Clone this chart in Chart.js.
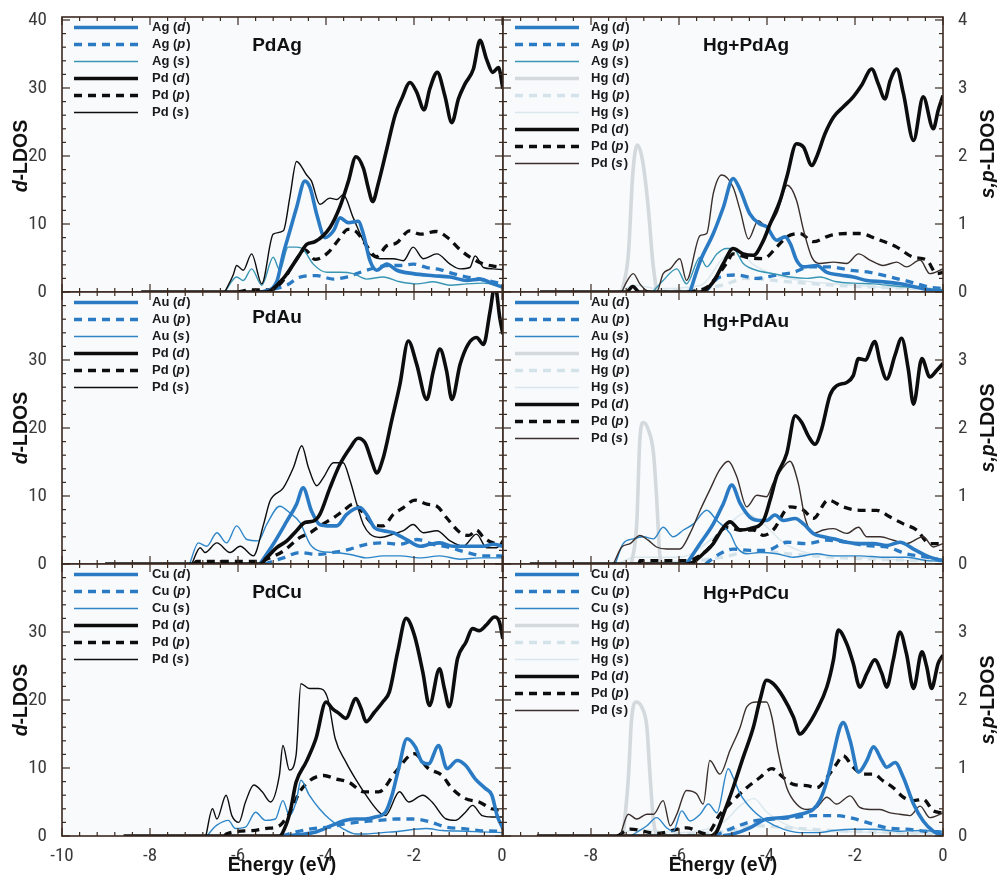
<!DOCTYPE html>
<html><head><meta charset="utf-8">
<script src="https://cdn.jsdelivr.net/npm/chart.js@4.4.1/dist/chart.umd.min.js"></script>
<style>
html,body{margin:0;padding:0;background:#fff;}
#wrap{position:relative;width:997px;height:877px;overflow:hidden;background:#fff;}
#wrap canvas{position:absolute;}
.lab{position:absolute;z-index:5;font-family:'Liberation Sans',Arial,sans-serif;font-weight:bold;font-size:19.5px;color:#111;white-space:nowrap;transform:translate(-50%,-50%);line-height:1;}
.rot{transform:translate(-50%,-50%) rotate(-90deg);}
</style></head><body><div id="wrap"></div>
<script>
// ---------- tick labels / titles ----------
const PANEL_TITLES = ['PdAg','Hg+PdAg','PdAu','Hg+PdAu','PdCu','Hg+PdCu'];
const X_TICKS_L = [-10,-8,-6,-4,-2,0];
const X_TICKS_R = [-8,-6,-4,-2,0];
const D_TICKS_TOP = [0,10,20,30,40];
const D_TICKS = [0,10,20,30];
const SP_TICKS_TOP = [0,1,2,3,4];
const SP_TICKS = [0,1,2,3];

// ---------- data: [energy (eV), LDOS]; d in d-LDOS units, s,p in s,p-LDOS units ----------
// PdAg
const pdag_AgD = [[-5.4,0],[-5.12,1.5],[-4.97,5.6],[-4.82,9],[-4.67,12.4],[-4.48,16.3],[-4.36,15.3],[-4.21,11.4],[-4.02,8],[-3.83,9],[-3.68,10.9],[-3.49,10.2],[-3.27,10.4],[-3.15,8.5],[-3.0,4.6],[-2.85,3.2],[-2.62,4.1],[-2.39,3.2],[-2.02,2.7],[-1.56,2.4],[-1.18,2.2],[-0.8,1.7],[-0.5,1.9],[-0.2,1.2],[0.02,0.7]];
const pdag_AgP = [[-5.5,0],[-4.89,0.1],[-4.59,0.22],[-4.21,0.24],[-3.83,0.19],[-3.53,0.22],[-3.3,0.27],[-3.08,0.32],[-2.85,0.36],[-2.62,0.39],[-2.32,0.39],[-2.02,0.41],[-1.71,0.36],[-1.41,0.33],[-1.11,0.27],[-0.8,0.22],[-0.5,0.19],[-0.2,0.15],[0.02,0.12]];
const pdag_AgS = [[-6.3,0],[-6.03,0.22],[-5.88,0.17],[-5.69,0.34],[-5.46,0.1],[-5.2,0.51],[-5.05,0.32],[-4.86,0.66],[-4.67,0.66],[-4.52,0.63],[-4.29,0.41],[-3.98,0.29],[-3.68,0.29],[-3.38,0.27],[-3.08,0.19],[-2.7,0.22],[-2.32,0.15],[-1.94,0.12],[-1.56,0.15],[-1.18,0.1],[-0.8,0.12],[-0.42,0.13],[0.02,0.07]];
const pdag_PdD = [[-8.2,0],[-5.35,0],[-4.97,2],[-4.74,4.1],[-4.59,5.6],[-4.44,7],[-4.25,7.4],[-3.91,9.5],[-3.68,12.6],[-3.49,16.3],[-3.32,19.9],[-3.15,18.2],[-3.04,15.3],[-2.94,13.3],[-2.81,16],[-2.62,21],[-2.43,26],[-2.28,28.4],[-2.09,30.8],[-1.94,29.4],[-1.77,26.8],[-1.64,29.9],[-1.47,32.3],[-1.30,28.9],[-1.14,24.9],[-0.99,28.4],[-0.84,30.6],[-0.65,32.8],[-0.5,37],[-0.35,34.2],[-0.21,32.3],[-0.08,33],[0.02,29.9]];
const pdag_PdP = [[-6.0,0],[-5.7,0.03],[-5.3,0.03],[-5.0,0.15],[-4.7,0.45],[-4.48,0.62],[-4.25,0.48],[-3.95,0.58],[-3.7,0.78],[-3.5,0.92],[-3.3,0.88],[-3.1,0.7],[-2.85,0.52],[-2.62,0.68],[-2.4,0.72],[-2.1,0.9],[-1.85,0.85],[-1.5,0.89],[-1.2,0.78],[-0.95,0.62],[-0.7,0.5],[-0.45,0.42],[-0.2,0.38],[0.02,0.36]];
const pdag_PdS = [[-6.3,0],[-6.11,0.25],[-6.03,0.39],[-5.88,0.32],[-5.69,0.56],[-5.46,0.12],[-5.2,0.85],[-4.97,0.9],[-4.82,1.4],[-4.67,1.92],[-4.44,1.72],[-4.33,1.63],[-4.14,1.29],[-3.91,1.38],[-3.75,1.36],[-3.61,1.43],[-3.38,1.09],[-3.15,0.75],[-3.0,0.56],[-2.77,0.49],[-2.47,0.49],[-2.24,0.46],[-2.02,0.66],[-1.79,0.49],[-1.48,0.56],[-1.18,0.41],[-0.95,0.34],[-0.73,0.36],[-0.61,0.53],[-0.42,0.36],[-0.2,0.34],[0.02,0.33]];
// Hg+PdAg
const hgpdag_AgD = [[-5.75,0],[-5.52,4.5],[-5.22,8.6],[-4.99,12.5],[-4.77,16.7],[-4.61,15],[-4.39,11.5],[-4.16,10],[-4.01,9.6],[-3.78,7.6],[-3.59,8.1],[-3.47,7.1],[-3.33,4.7],[-3.17,3.7],[-2.87,3.9],[-2.64,2.9],[-2.34,2.5],[-2.04,2.2],[-1.73,1.7],[-1.36,1.5],[-0.98,1.2],[-0.6,0.7],[-0.22,0.2],[0,0.1]];
const hgpdag_AgP = [[-5.4,0],[-5.07,0.22],[-4.69,0.25],[-4.24,0.2],[-3.78,0.25],[-3.4,0.29],[-3.02,0.37],[-2.57,0.37],[-2.11,0.32],[-1.66,0.29],[-1.2,0.22],[-0.75,0.15],[-0.3,0.07],[0,0.05]];
const hgpdag_AgS = [[-6.6,0],[-6.36,0.17],[-6.05,0.34],[-5.83,0.12],[-5.52,0.51],[-5.37,0.37],[-5.14,0.56],[-4.92,0.64],[-4.77,0.64],[-4.54,0.42],[-4.24,0.32],[-3.86,0.27],[-3.47,0.22],[-3.10,0.2],[-2.80,0.22],[-2.42,0.15],[-2.04,0.13],[-1.58,0.12],[-0.98,0.08],[-0.52,0.06],[0,0.03]];
const hgpdag_HgD = [[-7.3,0],[-7.15,5.6],[-7.05,17.4],[-6.95,21.6],[-6.83,19.4],[-6.70,12.5],[-6.60,4.7],[-6.51,0]];
const hgpdag_HgP = [[-7.4,0],[-6.0,0.02],[-5.0,0.1],[-4.5,0.2],[-3.5,0.15],[-2.5,0.1],[-1.0,0.06],[0,0.04]];
const hgpdag_HgS = [[-7.4,0],[-7.0,0.1],[-6.5,0.05],[-5.5,0.1],[-5.0,0.5],[-4.7,0.62],[-4.3,0.4],[-3.8,0.25],[-3.0,0.15],[-2.0,0.1],[-1.0,0.06],[0,0.04]];
const hgpdag_PdD = [[-9.16,0],[-7.2,0],[-7.05,0.8],[-6.9,0],[-5.52,0],[-5.22,1.5],[-4.99,4.2],[-4.77,6.4],[-4.54,5.6],[-4.31,5.4],[-4.08,7.6],[-3.93,10],[-3.70,13.5],[-3.55,16.9],[-3.33,21.8],[-3.17,21.3],[-2.98,18.6],[-2.87,19.9],[-2.68,23.3],[-2.49,25.7],[-2.27,27.2],[-2.04,28.7],[-1.85,30.4],[-1.62,32.8],[-1.47,30.6],[-1.32,28.4],[-1.20,31.1],[-1.05,32.8],[-0.90,29.2],[-0.67,22.3],[-0.45,28.7],[-0.22,24],[-0.11,26.7],[0,28.9]];
const hgpdag_PdP = [[-5.8,0],[-5.37,0.07],[-4.92,0.42],[-4.77,0.56],[-4.46,0.51],[-4.08,0.49],[-3.78,0.66],[-3.55,0.81],[-3.25,0.86],[-2.95,0.74],[-2.57,0.83],[-2.19,0.86],[-1.89,0.86],[-1.51,0.78],[-1.05,0.66],[-0.67,0.51],[-0.37,0.47],[-0.14,0.27],[0,0.29]];
const hgpdag_PdS = [[-7.3,0],[-7.19,0.15],[-7.04,0.27],[-6.89,0.12],[-6.73,0.02],[-6.51,0],[-6.36,0.27],[-6.20,0.34],[-5.98,0.49],[-5.83,0.17],[-5.52,0.83],[-5.37,0.86],[-5.22,1.45],[-5.03,1.72],[-4.77,1.54],[-4.61,1.2],[-4.42,0.78],[-4.20,1.05],[-4.01,0.96],[-3.78,1.15],[-3.54,1.57],[-3.33,1.35],[-3.17,0.91],[-2.98,0.51],[-2.80,0.42],[-2.49,0.44],[-2.19,0.42],[-1.92,0.56],[-1.66,0.47],[-1.36,0.39],[-1.05,0.44],[-0.83,0.37],[-0.52,0.47],[-0.30,0.27],[0,0.34]];
// PdAu
const pdau_AuD = [[-5.5,0],[-5.2,2.9],[-4.89,6.3],[-4.67,8.8],[-4.52,11.2],[-4.33,7.8],[-4.14,5.8],[-3.91,5.6],[-3.76,5.6],[-3.53,7.3],[-3.23,8.3],[-3.08,7.3],[-2.89,5.3],[-2.70,4.9],[-2.47,4.6],[-2.17,3.6],[-1.86,2.6],[-1.64,2.9],[-1.41,3.1],[-1.11,2.6],[-0.8,2.6],[-0.42,2.6],[-0.2,2.9],[0.02,2.6]];
const pdau_AuP = [[-5.4,0],[-4.97,0.09],[-4.59,0.17],[-4.21,0.14],[-3.83,0.17],[-3.45,0.22],[-3.08,0.29],[-2.70,0.31],[-2.32,0.29],[-1.94,0.36],[-1.56,0.29],[-1.18,0.24],[-0.8,0.17],[-0.42,0.12],[0.02,0.12]];
const pdau_AuS = [[-7.1,0],[-6.90,0.31],[-6.71,0.26],[-6.48,0.46],[-6.26,0.31],[-6.03,0.56],[-5.80,0.36],[-5.54,0.34],[-5.35,0.58],[-5.05,0.85],[-4.82,0.75],[-4.59,0.61],[-4.36,0.29],[-4.14,0.19],[-3.83,0.17],[-3.45,0.14],[-3.08,0.09],[-2.70,0.12],[-2.32,0.12],[-1.86,0.09],[-1.41,0.12],[-0.95,0.07],[-0.5,0.09],[0.02,0.09]];
const pdau_PdD = [[-9.02,0],[-5.5,0],[-5.35,0.9],[-5.12,2.4],[-4.89,3.4],[-4.67,4.9],[-4.48,6.1],[-4.29,6.3],[-4.14,7.3],[-3.91,11.2],[-3.68,14.7],[-3.45,17.1],[-3.27,18.5],[-3.11,17.8],[-2.96,15.1],[-2.85,13.4],[-2.70,15.6],[-2.51,21],[-2.32,26.4],[-2.13,32.8],[-1.94,29.4],[-1.71,24.2],[-1.56,28.4],[-1.41,31.6],[-1.26,28.4],[-1.14,24.2],[-0.95,29.4],[-0.77,32.3],[-0.58,33.3],[-0.42,32.3],[-0.27,37.2],[-0.16,41],[-0.05,36.2],[0.02,33.8]];
const pdau_PdP = [[-7.0,0],[-6.94,0.04],[-5.5,0.04],[-5.35,0.07],[-4.97,0.19],[-4.59,0.39],[-4.36,0.46],[-4.14,0.56],[-3.83,0.68],[-3.61,0.78],[-3.38,0.88],[-3.15,0.75],[-2.92,0.58],[-2.70,0.56],[-2.47,0.73],[-2.24,0.83],[-1.98,0.94],[-1.71,0.88],[-1.48,0.85],[-1.26,0.68],[-0.95,0.46],[-0.75,0.42],[-0.58,0.5],[-0.42,0.39],[-0.2,0.31],[0.02,0.29]];
const pdau_PdS = [[-7.05,0],[-6.86,0.24],[-6.75,0.17],[-6.48,0.31],[-6.18,0.17],[-5.95,0.26],[-5.65,0.12],[-5.42,0.58],[-5.27,0.93],[-4.97,1.12],[-4.74,1.42],[-4.55,1.74],[-4.40,1.42],[-4.21,1.15],[-4.06,1.27],[-3.83,1.49],[-3.61,1.49],[-3.45,1.22],[-3.30,0.88],[-3.15,0.58],[-3.0,0.44],[-2.77,0.39],[-2.47,0.44],[-2.24,0.49],[-2.02,0.58],[-1.79,0.46],[-1.48,0.49],[-1.18,0.34],[-0.88,0.26],[-0.58,0.44],[-0.35,0.24],[-0.12,0.24],[0.02,0.36]];
// Hg+PdAu
const hgpdau_AuD = [[-5.83,0],[-5.52,3],[-5.22,5.9],[-4.99,8.9],[-4.80,11.6],[-4.61,8.9],[-4.39,6.9],[-4.16,6.4],[-4.01,6.4],[-3.82,7.2],[-3.63,6.4],[-3.36,6.7],[-3.17,5.9],[-2.95,4.5],[-2.72,4],[-2.49,3.7],[-2.19,3.2],[-1.89,3],[-1.58,3],[-1.28,2.7],[-0.98,3.2],[-0.67,2.2],[-0.37,1.2],[-0.14,0.7],[0,0.5]];
const hgpdau_AuP = [[-5.4,0],[-5.07,0.15],[-4.77,0.22],[-4.39,0.2],[-4.01,0.2],[-3.55,0.32],[-3.1,0.3],[-2.64,0.35],[-2.19,0.32],[-1.73,0.27],[-1.28,0.25],[-0.83,0.15],[-0.37,0.1],[0,0.05]];
const hgpdau_AuS = [[-7.45,0],[-7.27,0.3],[-7.04,0.37],[-6.81,0.4],[-6.58,0.37],[-6.36,0.54],[-6.13,0.4],[-5.90,0.5],[-5.67,0.59],[-5.37,0.79],[-5.14,0.64],[-4.84,0.45],[-4.69,0.25],[-4.46,0.15],[-4.16,0.17],[-3.78,0.15],[-3.40,0.1],[-2.87,0.15],[-2.49,0.12],[-1.89,0.12],[-1.36,0.1],[-0.83,0.1],[-0.37,0.05],[0,0.04]];
const hgpdau_HgD = [[-7.08,0],[-6.96,6],[-6.89,18.3],[-6.81,20.8],[-6.70,19.8],[-6.58,16.3],[-6.51,9.9],[-6.43,1],[-6.36,0]];
const hgpdau_HgP = [[-7.4,0],[-6.0,0.03],[-5.0,0.1],[-4.3,0.2],[-3.5,0.15],[-2.5,0.1],[-1.0,0.06],[0,0.04]];
const hgpdau_HgS = [[-7.4,0],[-7.0,0.1],[-6.0,0.1],[-5.0,0.5],[-4.5,0.75],[-4.1,0.6],[-3.6,0.3],[-3.0,0.15],[-2.0,0.1],[-1.0,0.06],[0,0.04]];
const hgpdau_PdD = [[-9.39,0],[-5.83,0],[-5.67,0.3],[-5.45,1.5],[-5.22,3],[-4.99,5.4],[-4.84,6.2],[-4.61,5],[-4.39,5.2],[-4.08,6.4],[-3.93,9.4],[-3.78,12.9],[-3.55,16.3],[-3.36,21.8],[-3.21,20.8],[-3.06,18.8],[-2.91,17.6],[-2.76,19.8],[-2.57,24.8],[-2.42,26.2],[-2.19,26.7],[-2.04,27.7],[-1.92,30.2],[-1.77,30],[-1.55,32.7],[-1.43,29.7],[-1.28,27.2],[-1.09,30.7],[-0.94,33.2],[-0.79,28.7],[-0.67,23.5],[-0.48,30.2],[-0.30,27.5],[-0.14,28.5],[0,29.5]];
const hgpdau_PdP = [[-6.9,0],[-6.89,0.05],[-5.83,0.05],[-5.37,0.2],[-4.92,0.54],[-4.61,0.5],[-4.31,0.5],[-4.08,0.42],[-3.86,0.5],[-3.48,0.84],[-3.17,0.79],[-2.95,0.67],[-2.61,0.94],[-2.27,0.84],[-1.89,0.79],[-1.51,0.79],[-1.2,0.69],[-0.9,0.59],[-0.6,0.5],[-0.3,0.3],[0,0.3]];
const hgpdau_PdS = [[-7.49,0],[-7.30,0.25],[-7.11,0.3],[-6.89,0.42],[-6.70,0.35],[-6.51,0.25],[-6.28,0.22],[-5.98,0.22],[-5.75,0.45],[-5.52,0.79],[-5.30,1.09],[-5.07,1.39],[-4.88,1.51],[-4.69,1.29],[-4.46,0.84],[-4.23,1.01],[-4.01,0.99],[-3.86,1.19],[-3.67,1.39],[-3.48,1.51],[-3.29,1.19],[-3.14,0.69],[-2.95,0.45],[-2.72,0.5],[-2.49,0.52],[-2.19,0.45],[-1.92,0.54],[-1.73,0.4],[-1.43,0.4],[-1.13,0.35],[-0.83,0.3],[-0.45,0.4],[-0.22,0.25],[0,0.3]];
// PdCu
const pdcu_CuD = [[-5.0,0],[-4.76,0.1],[-4.23,0.6],[-3.85,1.6],[-3.55,2.3],[-3.33,2.5],[-3.11,2.5],[-2.88,2.8],[-2.65,3.5],[-2.50,6],[-2.35,9.9],[-2.16,14.3],[-1.97,13.1],[-1.82,10.9],[-1.67,10.6],[-1.44,13.3],[-1.25,9.9],[-1.02,11.1],[-0.83,10.4],[-0.61,8.4],[-0.38,7],[-0.23,6],[-0.11,3],[0.02,1.1]];
const pdcu_CuP = [[-5.0,0],[-4.68,0.06],[-4.3,0.11],[-3.92,0.13],[-3.55,0.18],[-3.17,0.21],[-2.79,0.23],[-2.41,0.25],[-2.03,0.25],[-1.65,0.21],[-1.27,0.13],[-0.89,0.11],[-0.52,0.08],[0.02,0.07]];
const pdcu_CuS = [[-6.7,0],[-6.58,0.1],[-6.48,0.16],[-6.22,0.23],[-6.06,0.11],[-5.83,0.13],[-5.60,0.35],[-5.38,0.23],[-5.15,0.25],[-4.98,0.52],[-4.83,0.3],[-4.68,0.5],[-4.57,0.82],[-4.38,0.6],[-4.15,0.4],[-3.92,0.25],[-3.62,0.11],[-3.33,0.03],[-3.09,0.03],[-2.71,0.05],[-2.33,0.07],[-1.73,0.11],[-1.35,0.08],[-0.82,0.07],[-0.45,0.06],[0.02,0.05]];
const pdcu_PdD = [[-8.6,0],[-5.06,0],[-4.91,1.6],[-4.80,4],[-4.68,7.9],[-4.45,10.9],[-4.23,14.3],[-4.0,19.7],[-3.85,18.7],[-3.70,18],[-3.55,17.3],[-3.32,20.2],[-3.20,18.7],[-3.09,16.8],[-2.90,18.2],[-2.71,19.7],[-2.56,21.2],[-2.37,27.1],[-2.18,32],[-1.99,29.5],[-1.80,24.1],[-1.65,19.2],[-1.42,24.6],[-1.31,21.7],[-1.20,19],[-1.01,26.1],[-0.82,28.5],[-0.67,30.5],[-0.52,30.2],[-0.36,31],[-0.17,32.2],[-0.06,31.5],[0.02,29]];
const pdcu_PdP = [[-6.3,0],[-6.27,0.03],[-5.68,0.08],[-5.38,0.11],[-5.06,0.15],[-4.92,0.25],[-4.77,0.4],[-4.6,0.65],[-4.05,0.89],[-3.78,0.84],[-3.48,0.79],[-3.14,0.65],[-2.80,0.65],[-2.42,0.94],[-2.0,1.21],[-1.67,0.99],[-1.36,0.89],[-1.14,0.7],[-0.83,0.55],[-0.52,0.5],[-0.23,0.4],[0.02,0.38]];
const pdcu_PdS = [[-6.73,0],[-6.58,0.4],[-6.48,0.25],[-6.27,0.6],[-6.14,0.3],[-5.98,0.2],[-5.83,0.5],[-5.64,0.75],[-5.45,0.65],[-5.26,0.5],[-5.06,0.89],[-4.98,1.33],[-4.83,0.97],[-4.68,1.19],[-4.57,2.24],[-4.38,2.17],[-4.17,2.17],[-3.96,2.02],[-3.79,1.43],[-3.55,1.09],[-3.33,0.84],[-3.09,0.6],[-2.79,0.35],[-2.65,0.3],[-2.33,0.65],[-2.12,0.5],[-1.80,0.6],[-1.59,0.5],[-1.27,0.25],[-1.06,0.23],[-0.83,0.35],[-0.67,0.45],[-0.45,0.3],[-0.23,0.28],[0.02,0.28]];
// Hg+PdCu
const hgpdcu_CuD = [[-5.0,0],[-4.77,0.3],[-4.39,1.2],[-4.01,2.5],[-3.63,2.7],[-3.25,3.2],[-2.95,3.9],[-2.80,5.2],[-2.64,8.1],[-2.49,12.1],[-2.34,16],[-2.27,16.7],[-2.11,14],[-1.92,9.4],[-1.73,11.1],[-1.58,13.1],[-1.39,11.1],[-1.28,10.1],[-1.09,10.8],[-0.90,8.6],[-0.67,4.7],[-0.45,2.2],[-0.22,0.7],[0,0.1]];
const hgpdcu_CuP = [[-5.2,0],[-4.77,0.12],[-4.31,0.22],[-3.86,0.25],[-3.40,0.27],[-2.95,0.3],[-2.49,0.3],[-2.11,0.27],[-1.73,0.2],[-1.28,0.12],[-0.83,0.1],[-0.37,0.07],[0,0.06]];
const hgpdcu_CuS = [[-7.1,0],[-6.73,0.15],[-6.51,0.27],[-6.28,0.12],[-6.13,0.07],[-5.94,0.37],[-5.75,0.22],[-5.52,0.32],[-5.33,0.47],[-5.14,0.34],[-4.88,0.99],[-4.77,0.86],[-4.61,0.62],[-4.31,0.37],[-4.01,0.22],[-3.63,0.1],[-3.25,0.05],[-2.80,0.05],[-2.49,0.08],[-2.04,0.1],[-1.58,0.1],[-0.98,0.07],[-0.52,0.08],[0,0.06]];
const hgpdcu_HgD = [[-7.27,0],[-7.15,8.6],[-7.08,17],[-6.98,19.7],[-6.85,19],[-6.73,16],[-6.66,9.1],[-6.58,2.2],[-6.51,0]];
const hgpdcu_HgP = [[-7.4,0],[-6.0,0.03],[-5.0,0.06],[-4.2,0.15],[-3.5,0.12],[-2.5,0.08],[-1.0,0.05],[0,0.03]];
const hgpdcu_HgS = [[-7.4,0],[-7.0,0.1],[-6.0,0.05],[-5.0,0.2],[-4.6,0.45],[-4.3,0.55],[-4.0,0.35],[-3.5,0.15],[-3.0,0.08],[-2.0,0.06],[0,0.03]];
const hgpdcu_PdD = [[-9.23,0],[-5.30,0],[-5.14,0.7],[-4.99,3.2],[-4.77,7.1],[-4.54,11.6],[-4.31,16],[-4.16,20],[-4.01,22.9],[-3.86,22.4],[-3.63,20.4],[-3.40,17.5],[-3.25,15],[-3.10,16],[-2.87,18.5],[-2.64,21.9],[-2.49,25.9],[-2.38,30.3],[-2.19,28.3],[-2.04,25.4],[-1.89,21.9],[-1.73,23.9],[-1.55,25.9],[-1.39,23.9],[-1.28,21.9],[-1.13,25.9],[-0.98,30],[-0.83,26.8],[-0.67,21.7],[-0.48,27.1],[-0.37,24.9],[-0.26,21.7],[-0.11,25.4],[0,26.6]];
const hgpdcu_PdP = [[-7.4,0],[-7.11,0.1],[-6.5,0.04],[-5.83,0.12],[-5.37,0.03],[-5.07,0.32],[-4.77,0.52],[-4.46,0.71],[-4.16,0.86],[-3.89,0.99],[-3.63,0.86],[-3.40,0.76],[-3.10,0.74],[-2.87,0.71],[-2.64,0.86],[-2.42,1.06],[-2.27,1.18],[-2.04,1.01],[-1.81,0.91],[-1.58,0.91],[-1.36,0.81],[-1.13,0.71],[-0.90,0.57],[-0.67,0.52],[-0.45,0.54],[-0.22,0.37],[0,0.34]];
const hgpdcu_PdS = [[-7.34,0],[-7.15,0.32],[-6.96,0.25],[-6.73,0.32],[-6.58,0.32],[-6.36,0.52],[-6.20,0.15],[-6.05,0.32],[-5.83,0.67],[-5.60,0.62],[-5.45,0.47],[-5.30,1.11],[-5.07,0.91],[-4.84,1.26],[-4.61,1.6],[-4.46,1.9],[-4.23,1.97],[-4.01,1.97],[-3.89,1.75],[-3.74,1.21],[-3.55,0.71],[-3.33,0.47],[-3.10,0.39],[-2.87,0.42],[-2.64,0.57],[-2.42,0.47],[-2.11,0.59],[-1.89,0.42],[-1.66,0.39],[-1.43,0.39],[-1.20,0.34],[-0.98,0.32],[-0.75,0.3],[-0.52,0.44],[-0.30,0.27],[0,0.34]];

// ---------- styles ----------
const BLUE = '#2a7bc4';
const NARROW = "'Liberation Sans Narrow','Roboto Condensed','Open Sans Condensed','DejaVu Sans Condensed','DejaVu Sans',sans-serif";
const BOLD = "'Liberation Sans',Arial,sans-serif";
const EDGE = '#3b2a20';
function styleFor(elem, orb, side){
  let color, width, dash = [];
  if (elem === 'Pd') color = (orb === 's' && side === 'R') ? '#3a2f2c' : '#0d0d0d';
  else if (elem === 'Hg') color = orb === 'd' ? '#d3d9dc' : (orb === 'p' ? '#d4e3ea' : '#dae8ee');
  else if (orb === 's') color = elem === 'Ag' ? '#3896b4' : '#2e86c8';
  else color = BLUE;
  if (orb === 'd') width = 3.6; else if (orb === 'p') { width = 3.3; dash = [8,6]; } else width = 1.4;
  const orderMap = {Pd:{d:0,s:2,p:4}, X:{d:1,s:3,p:5}, Hg:{d:6,p:7,s:8}};
  const order = (orderMap[elem] || orderMap.X)[orb];
  return {color, width, dash, order};
}

const decoPlugin = {
  id: 'deco',
  beforeDraw(chart){
    const a = chart.chartArea, c = chart.ctx;
    c.save(); c.fillStyle = '#f8fafc'; c.fillRect(a.left, a.top, a.width, a.height); c.restore();
  },
  afterDraw(chart, args, o){
    const a = chart.chartArea, c = chart.ctx, xs = chart.scales.x, yd = chart.scales.yd;
    c.save();
    c.strokeStyle = EDGE; c.lineWidth = 1.2; c.setLineDash([]);
    const ln = (x1,y1,x2,y2)=>{c.beginPath(); c.moveTo(x1,y1); c.lineTo(x2,y2); c.stroke();};
    for (let k = 0; k <= 25; k++) {
      const px = xs.getPixelForValue(-10 + k*0.4);
      const L = (k % 5 === 0) ? 8 : 4;
      ln(px, a.bottom, px, a.bottom - L); ln(px, a.top, px, a.top + L);
    }
    for (let k = 0; k <= 20; k++) {
      const py = yd.getPixelForValue(k*2);
      const L = (k % 5 === 0) ? 8 : 4;
      ln(a.left, py, a.left + L, py); ln(a.right, py, a.right - L, py);
    }
    c.lineWidth = 1.6; c.strokeRect(a.left, a.top, a.width, a.height);
    // legend
    chart.data.datasets.forEach((d, i) => {
      const y = a.top + 10.5 + i*17;
      c.save(); c.strokeStyle = d.borderColor; c.lineWidth = d.borderWidth; c.setLineDash(d.borderDash || []);
      c.beginPath(); c.moveTo(a.left + 12, y); c.lineTo(a.left + 76, y); c.stroke(); c.restore();
      let x = a.left + o.textX;
      c.fillStyle = '#1a1a1a'; c.textBaseline = 'middle'; c.textAlign = 'left';
      [[d.elem + ' (', false], [d.orb, true], [')', false]].forEach(([t, it]) => {
        c.font = (it ? 'italic ' : '') + 'bold 13px ' + BOLD;
        c.fillText(t, x, y); x += c.measureText(t).width + (it ? 1 : 0);
      });
    });
    // title
    c.font = 'bold 19px ' + BOLD; c.fillStyle = '#111'; c.textAlign = 'center'; c.textBaseline = 'middle';
    c.fillText(o.title, a.left + o.tx, a.top + o.ty);
    c.restore();
  }
};

// canvas rows: chart areas land at 17..292, 292..564, 564..836
const ROWS = {1:{top:-3,h:315,pt:20,pb:20,dmax:40.44,spmax:4.044}, 2:{top:272,h:312,pt:20,pb:20,dmax:40,spmax:4}, 3:{top:544,h:333,pt:20,pb:0,dmax:40,spmax:4}};
const wrap = document.getElementById('wrap');
const tickFont = {family: NARROW, size: 19, lineHeight: 1, style: 'condensed'};

function makePanel(side, row, titleIdx, tx, ty, list){
  const R = ROWS[row];
  const cv = document.createElement('canvas');
  const left = side === 'L' ? 0 : 486, w = side === 'L' ? 520 : 511;
  cv.width = w; cv.height = R.h; cv.style.left = left + 'px'; cv.style.top = R.top + 'px';
  cv.style.width = w + 'px'; cv.style.height = R.h + 'px';
  wrap.appendChild(cv);
  const datasets = list.map(([elem, orb, data]) => {
    const s = styleFor(elem, orb, side);
    return {label: elem + ' (' + orb + ')', elem, orb, data, yAxisID: orb === 'd' ? 'yd' : 'ysp',
      borderColor: s.color, borderWidth: s.width, borderDash: s.dash, order: s.order,
      pointRadius: 0, fill: false, cubicInterpolationMode: 'monotone', borderCapStyle: 'butt', borderJoinStyle: 'round'};
  });
  const showX = row === 3, showD = side === 'L', showSP = side === 'R';
  new Chart(cv, {
    type: 'line',
    data: {datasets},
    plugins: [decoPlugin],
    options: {
      responsive: false, animation: false, devicePixelRatio: 1,
      layout: {padding: {left: side === 'L' ? 0 : 17, right: side === 'L' ? 17 : 0, top: R.pt, bottom: R.pb}},
      plugins: {legend: {display: false}, tooltip: {enabled: false},
        deco: {title: PANEL_TITLES[titleIdx], tx, ty, textX: side === 'L' ? 90 : 88}},
      scales: {
        x: {type: 'linear', min: -10, max: side === 'L' ? 0.0227 : 0, display: showX,
          grid: {display: false}, border: {display: false},
          ticks: {font: tickFont, color: '#3a3a3a', padding: 3, maxRotation: 0},
          afterBuildTicks: s => { s.ticks = (side === 'L' ? X_TICKS_L : X_TICKS_R).map(v => ({value: v})); },
          afterFit: s => { s.height = showX ? 41 : 0; }},
        yd: {type: 'linear', position: 'left', min: 0, max: R.dmax, display: showD,
          grid: {display: false}, border: {display: false},
          ticks: {font: tickFont, color: '#3a3a3a', padding: 7},
          afterBuildTicks: s => { s.ticks = (row === 1 ? D_TICKS_TOP : D_TICKS).map(v => ({value: v})); },
          afterFit: s => { s.width = showD ? 62 : 0; }},
        ysp: {type: 'linear', position: 'right', min: 0, max: R.spmax, display: showSP,
          grid: {display: false}, border: {display: false},
          ticks: {font: tickFont, color: '#3a3a3a', padding: 7},
          afterBuildTicks: s => { s.ticks = (row === 1 ? SP_TICKS_TOP : SP_TICKS).map(v => ({value: v})); },
          afterFit: s => { s.width = showSP ? 54 : 0; }}
      }
    }
  });
}

makePanel('L', 1, 0, 215, 29, [['Ag','d',pdag_AgD],['Ag','p',pdag_AgP],['Ag','s',pdag_AgS],['Pd','d',pdag_PdD],['Pd','p',pdag_PdP],['Pd','s',pdag_PdS]]);
makePanel('R', 1, 1, 243, 29, [['Ag','d',hgpdag_AgD],['Ag','p',hgpdag_AgP],['Ag','s',hgpdag_AgS],['Hg','d',hgpdag_HgD],['Hg','p',hgpdag_HgP],['Hg','s',hgpdag_HgS],['Pd','d',hgpdag_PdD],['Pd','p',hgpdag_PdP],['Pd','s',hgpdag_PdS]]);
makePanel('L', 2, 2, 215, 26, [['Au','d',pdau_AuD],['Au','p',pdau_AuP],['Au','s',pdau_AuS],['Pd','d',pdau_PdD],['Pd','p',pdau_PdP],['Pd','s',pdau_PdS]]);
makePanel('R', 2, 3, 243, 30, [['Au','d',hgpdau_AuD],['Au','p',hgpdau_AuP],['Au','s',hgpdau_AuS],['Hg','d',hgpdau_HgD],['Hg','p',hgpdau_HgP],['Hg','s',hgpdau_HgS],['Pd','d',hgpdau_PdD],['Pd','p',hgpdau_PdP],['Pd','s',hgpdau_PdS]]);
makePanel('L', 3, 4, 215, 29, [['Cu','d',pdcu_CuD],['Cu','p',pdcu_CuP],['Cu','s',pdcu_CuS],['Pd','d',pdcu_PdD],['Pd','p',pdcu_PdP],['Pd','s',pdcu_PdS]]);
makePanel('R', 3, 5, 243, 30, [['Cu','d',hgpdcu_CuD],['Cu','p',hgpdcu_CuP],['Cu','s',hgpdcu_CuS],['Hg','d',hgpdcu_HgD],['Hg','p',hgpdcu_HgP],['Hg','s',hgpdcu_HgS],['Pd','d',hgpdcu_PdD],['Pd','p',hgpdcu_PdP],['Pd','s',hgpdcu_PdS]]);

// axis titles (HTML text)
function addLabel(html, x, y, rot){
  const d = document.createElement('div');
  d.className = 'lab' + (rot ? ' rot' : '');
  d.innerHTML = html; d.style.left = x + 'px'; d.style.top = y + 'px';
  wrap.appendChild(d);
}
[156, 428, 700].forEach(y => addLabel('<i>d</i>-LDOS', 21, y, true));
[154, 428, 700].forEach(y => addLabel('<i>s,p</i>-LDOS', 988, y, true));
addLabel('Energy (eV)', 282, 865, false);
addLabel('Energy (eV)', 723, 865, false);
</script></body></html>
